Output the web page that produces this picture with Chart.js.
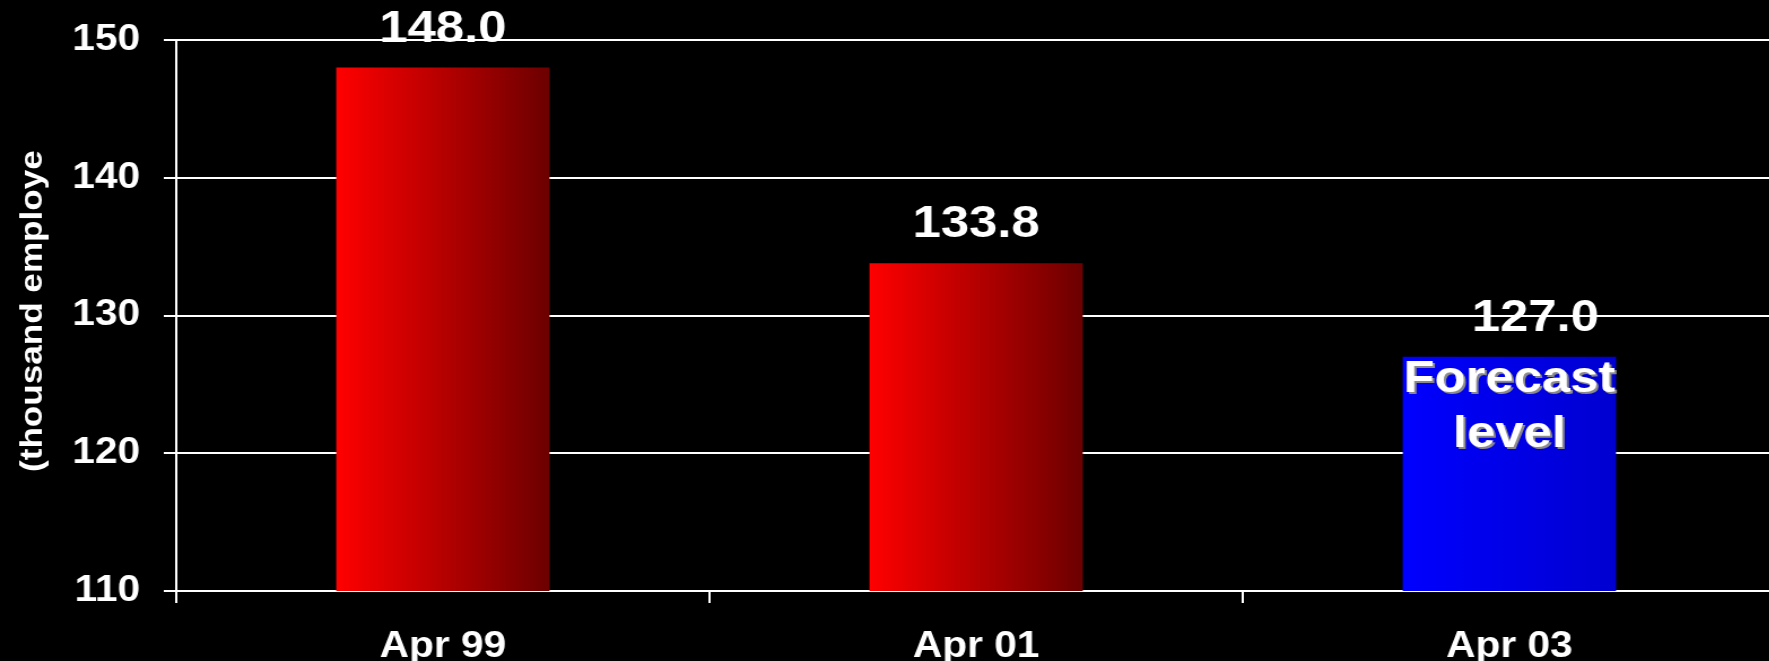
<!DOCTYPE html>
<html>
<head>
<meta charset="utf-8">
<script src="https://cdn.jsdelivr.net/npm/chart.js@4"></script>
<style>
  html, body { margin: 0; padding: 0; background: #000; overflow: hidden; }
</style>
</head>
<body>
<!-- the source picture is a slide stretched sideways and cut a little on the right,
     so the canvas is stretched too and runs a few pixels past the window -->
<canvas id="chart" width="1572" height="661" style="display:block;width:1776px;height:661px"></canvas>
<script>
const categories = ["Apr 99", "Apr 01", "Apr 03"];
const employees = [148.0, 133.8, 127.0];
const yTicks = [110, 120, 130, 140, 150];
const yTitle = "(thousand employees)";
const forecastNote = ["Forecast", "level"];
const forecastIndex = 2;

const FONT = "'Liberation Sans', Arial, sans-serif";
const BAR_SHARE = 0.4;

// horizontal gradient per bar: red for actuals, blue for the forecast
function barGradient(c) {
  const solid = c.dataIndex === forecastIndex ? "#0000ff" : "#ff0000";
  const xs = c.chart.scales.x;
  if (!c.chart.chartArea || !xs || c.dataIndex === undefined) return solid;
  const w = (xs.width / categories.length) * BAR_SHARE;
  const cx = xs.getPixelForValue(c.dataIndex);
  if (!isFinite(cx) || !isFinite(w) || w <= 0) return solid;
  const g = c.chart.ctx.createLinearGradient(cx - w / 2, 0, cx + w / 2, 0);
  if (c.dataIndex === forecastIndex) {
    g.addColorStop(0, "#0000ff");
    g.addColorStop(1, "#0000d0");
  } else {
    g.addColorStop(0, "#ff0000");
    g.addColorStop(1, "#6c0000");
  }
  return g;
}

const barLabels = {
  id: "barLabels",
  afterDatasetsDraw(chart) {
    const ctx = chart.ctx;
    const bars = chart.getDatasetMeta(0).data;
    ctx.save();
    ctx.textAlign = "center";
    ctx.textBaseline = "alphabetic";
    ctx.font = "bold 45px " + FONT;
    ctx.fillStyle = "#fff";
    bars.forEach((bar, i) => {
      const shift = i === forecastIndex ? 23 : 0;
      ctx.fillText(employees[i].toFixed(1), bar.x + shift, bar.y - 26);
    });
    // note inside the forecast bar, white with a grey drop shadow
    const fb = bars[forecastIndex];
    forecastNote.forEach((line, k) => {
      const y = fb.y + 35 + k * 55;
      ctx.fillStyle = "#8a8a8a";
      ctx.fillText(line, fb.x + 2, y + 2);
      ctx.fillStyle = "#fff";
      ctx.fillText(line, fb.x, y);
    });
    ctx.restore();
  },
};

// y title, cut off at the top like in the slide
const yTitlePlugin = {
  id: "yTitle",
  afterDraw(chart) {
    const ctx = chart.ctx;
    ctx.save();
    ctx.beginPath();
    ctx.rect(0, 150, 60, chart.height - 150);
    ctx.clip();
    ctx.translate(37, 472);
    ctx.rotate(-Math.PI / 2);
    ctx.scale(1.3, 1);
    ctx.font = "bold 27px " + FONT;
    ctx.fillStyle = "#fff";
    ctx.textAlign = "left";
    ctx.textBaseline = "alphabetic";
    ctx.fillText(yTitle, 0, 0);
    ctx.restore();
  },
};

const ctx = document.getElementById("chart").getContext("2d");
new Chart(ctx, {
  type: "bar",
  data: {
    labels: categories,
    datasets: [
      {
        data: employees,
        backgroundColor: barGradient,
        borderWidth: 0,
        barPercentage: 0.5,
        categoryPercentage: 0.8,
      },
    ],
  },
  options: {
    responsive: false,
    devicePixelRatio: 1,
    animation: false,
    events: [],
    layout: {
      padding: { left: 0, top: 40, right: 0, bottom: 0 },
    },
    plugins: {
      legend: { display: false },
      tooltip: { enabled: false },
    },
    scales: {
      x: {
        afterFit: (scale) => {
          scale.height = 70;
        },
        grid: {
          drawOnChartArea: false,
          offset: true,
          color: "#fff",
          lineWidth: 2,
          tickLength: 12,
        },
        border: { display: true, color: "#fff", width: 2 },
        ticks: {
          color: "#fff",
          padding: 26,
          font: { family: FONT, size: 36, weight: "bold", lineHeight: 1 },
        },
      },
      y: {
        min: 110,
        max: 150,
        afterBuildTicks: (scale) => {
          scale.ticks = yTicks.map((v) => ({ value: v }));
        },
        afterFit: (scale) => {
          scale.width = 156;
        },
        grid: { color: "#fff", lineWidth: 2, tickLength: 11 },
        border: { display: true, color: "#fff", width: 2 },
        ticks: {
          color: "#fff",
          padding: 21,
          // small line height so the label padding does not push the plot down
          font: { family: FONT, size: 36, weight: "bold", lineHeight: 0.4 },
        },
      },
    },
  },
  plugins: [barLabels, yTitlePlugin],
});
</script>
</body>
</html>
